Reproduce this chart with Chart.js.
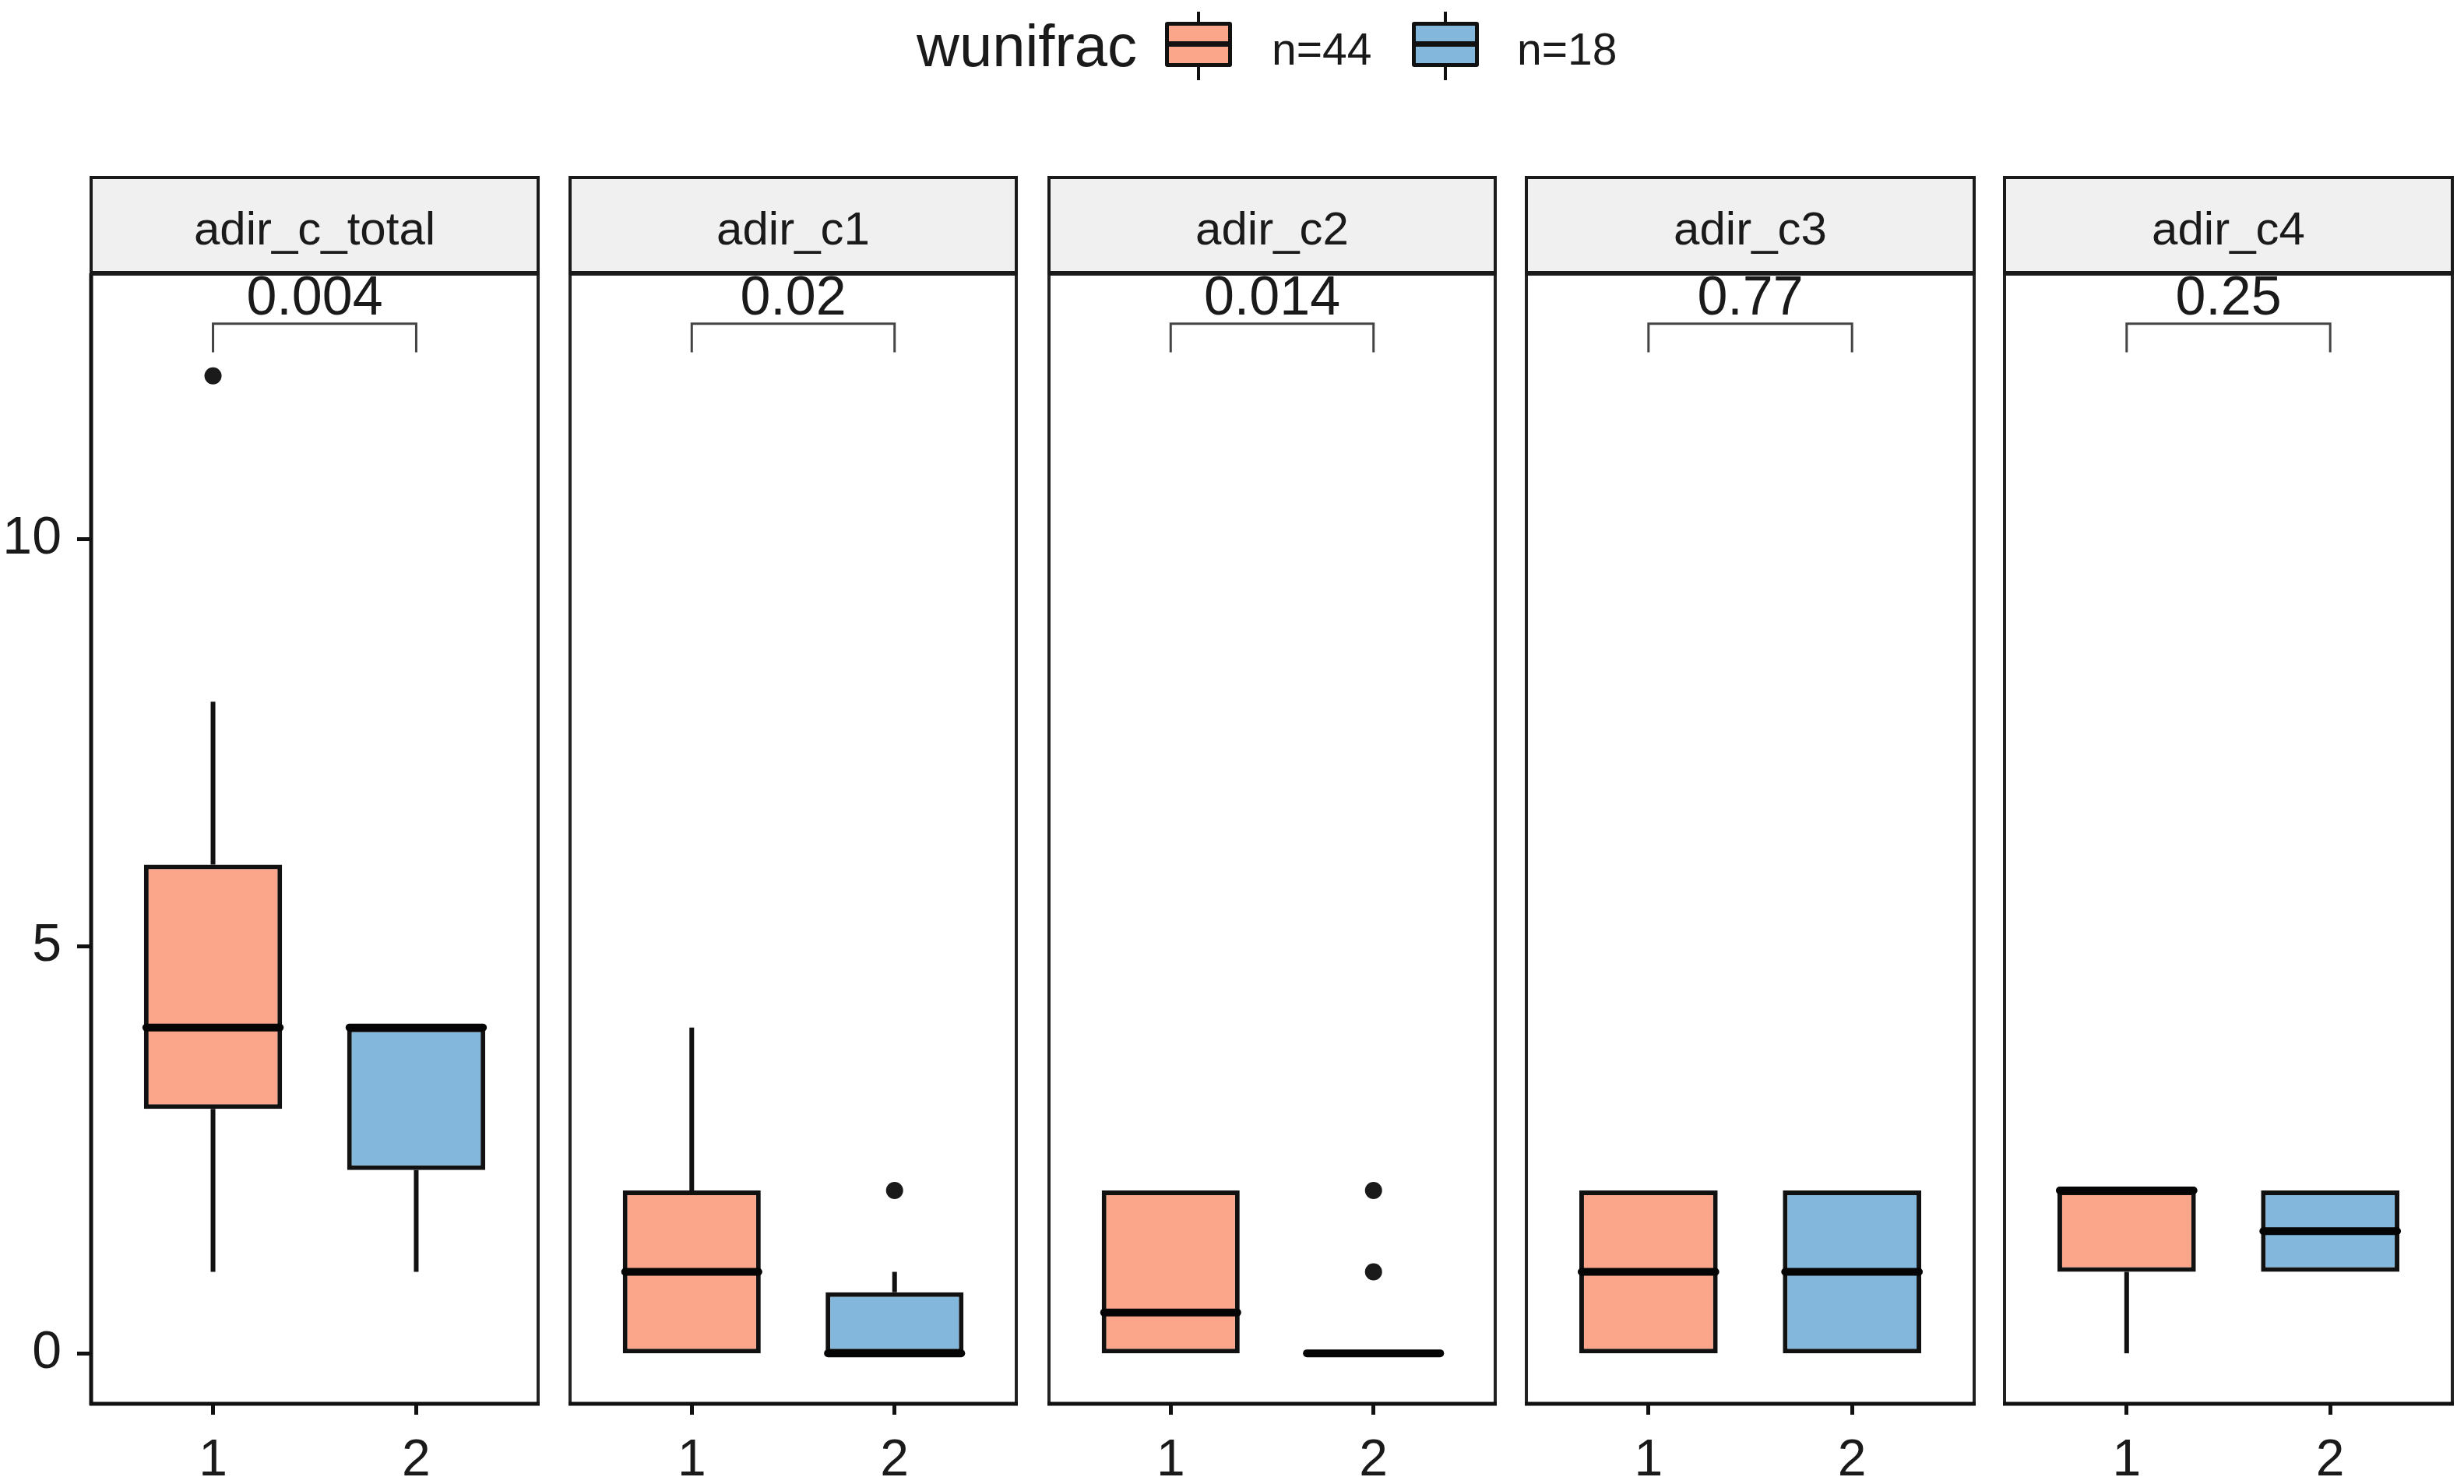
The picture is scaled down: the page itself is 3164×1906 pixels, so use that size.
<!DOCTYPE html>
<html>
<head>
<meta charset="utf-8">
<script src="https://cdn.jsdelivr.net/npm/chart.js@4.4.1/dist/chart.umd.min.js"></script>
<style>
html, body { margin: 0; padding: 0; background: #fff; }
body { width: 3164px; height: 1906px; position: relative; overflow: hidden;
       font-family: "Liberation Sans", Arial, sans-serif; color: #1a1a1a; }
canvas { position: absolute; }
.lg { position: absolute; white-space: nowrap; line-height: 1; }
.key { position: absolute; box-sizing: border-box; border: 5px solid #111; border-radius: 3px; }
.bar { position: absolute; background: #111; }
</style>
</head>
<body>
<script>
// facets, groups, labels
const panelNames = ['adir_c_total', 'adir_c1', 'adir_c2', 'adir_c3', 'adir_c4'];
const legendTitle = 'wunifrac';
const groupLabels = ['n=44', 'n=18'];
const groupColors = ['#FBA68B', '#83B8DC'];
const pValues = ['0.004', '0.02', '0.014', '0.77', '0.25'];
const xTicks = [1, 2];
const yTicks = [0, 5, 10];

// group 1 (n=44) box stats per facet
const g1Low  = [1, 0, 0,   0, 0];
const g1Q1   = [3, 0, 0,   0, 1];
const g1Med  = [4, 1, 0.5, 1, 2];
const g1Q3   = [6, 2, 2,   2, 2];
const g1High = [8, 4, 2,   2, 2];
const g1Out  = [[12], [], [], [], []];

// group 2 (n=18) box stats per facet
const g2Low  = [1,    0,    0, 0, 1];
const g2Q1   = [2.25, 0,    0, 0, 1];
const g2Med  = [4,    0,    0, 1, 1.5];
const g2Q3   = [4,    0.75, 0, 2, 2];
const g2High = [4,    1,    0, 2, 2];
const g2Out  = [[], [2], [1, 2], [], []];

const stats = [
  {low: g1Low, q1: g1Q1, med: g1Med, q3: g1Q3, high: g1High, out: g1Out},
  {low: g2Low, q1: g2Q1, med: g2Med, q3: g2Q3, high: g2High, out: g2Out}
];

// layout (px)
const panelLeft = 117, panelStep = 614.25, panelW = 575;
const canvasTop = 200, plotTop = 351, plotBottom = 1803, stripH = 123;
const font = '"Liberation Sans", Arial, sans-serif';

function line(ctx, x1, y1, x2, y2) {
  ctx.beginPath(); ctx.moveTo(x1, y1); ctx.lineTo(x2, y2); ctx.stroke();
}

const boxParts = {
  id: 'boxParts',
  beforeDatasetsDraw(chart, args, opts) {
    const {ctx, scales: {x, y}} = chart;
    const i = opts.panel;
    ctx.save();
    ctx.strokeStyle = '#111';
    ctx.lineWidth = 6;
    stats.forEach((st, k) => {
      const px = x.getPixelForValue(xTicks[k]);
      if (st.high[i] > st.q3[i]) line(ctx, px, y.getPixelForValue(st.q3[i]), px, y.getPixelForValue(st.high[i]));
      if (st.low[i] < st.q1[i]) line(ctx, px, y.getPixelForValue(st.q1[i]), px, y.getPixelForValue(st.low[i]));
    });
    ctx.restore();
  },
  afterDatasetsDraw(chart, args, opts) {
    const {ctx, scales: {y}} = chart;
    const i = opts.panel;
    const bars = chart.getDatasetMeta(0).data;
    ctx.save();
    ctx.strokeStyle = '#050505';
    ctx.lineWidth = 10;
    ctx.lineCap = 'round';
    stats.forEach((st, k) => {
      const b = bars[k];
      const py = y.getPixelForValue(st.med[i]);
      line(ctx, b.x - b.width / 2 + 3, py, b.x + b.width / 2 - 3, py);
    });
    ctx.restore();
  },
  afterDraw(chart, args, opts) {
    const {ctx, chartArea: a, scales: {x, y}} = chart;
    const i = opts.panel;
    ctx.save();
    // panel border
    ctx.strokeStyle = '#222';
    ctx.lineWidth = 4;
    ctx.strokeRect(a.left, a.top, a.right - a.left, a.bottom - a.top);
    // axis lines
    ctx.strokeStyle = '#111';
    ctx.lineWidth = 5;
    line(ctx, a.left - 2, a.bottom, a.right + 2, a.bottom);
    if (i === 0) line(ctx, a.left, a.top, a.left, a.bottom + 2);
    // bracket + p value
    const x1 = x.getPixelForValue(xTicks[0]), x2 = x.getPixelForValue(xTicks[1]);
    const yb = y.getPixelForValue(12.64), yt = y.getPixelForValue(12.29);
    ctx.strokeStyle = '#444';
    ctx.lineWidth = 3;
    ctx.beginPath();
    ctx.moveTo(x1, yt); ctx.lineTo(x1, yb); ctx.lineTo(x2, yb); ctx.lineTo(x2, yt);
    ctx.stroke();
    ctx.fillStyle = '#1a1a1a';
    ctx.font = '70px ' + font;
    ctx.textAlign = 'center';
    ctx.textBaseline = 'middle';
    ctx.fillText(pValues[i], (x1 + x2) / 2, y.getPixelForValue(12.98) + 4);
    // facet strip
    const st = a.top - stripH;
    ctx.fillStyle = '#F0F0F0';
    ctx.fillRect(a.left, st, a.right - a.left, stripH);
    ctx.strokeStyle = '#1a1a1a';
    ctx.lineWidth = 4;
    ctx.strokeRect(a.left, st, a.right - a.left, stripH);
    ctx.lineWidth = 6;
    line(ctx, a.left, a.top, a.right, a.top);
    ctx.fillStyle = '#1a1a1a';
    ctx.font = '60px ' + font;
    ctx.fillText(panelNames[i], (a.left + a.right) / 2, st + stripH / 2 + 8);
    ctx.restore();
  }
};

panelNames.forEach((name, i) => {
  const first = i === 0;
  const left = first ? 0 : Math.round(panelLeft + i * panelStep) - 10;
  const width = first ? panelLeft + panelW + 10 : panelW + 20;
  const height = 1906 - canvasTop;
  const cv = document.createElement('canvas');
  cv.width = width; cv.height = height;
  cv.style.left = left + 'px'; cv.style.top = canvasTop + 'px';
  cv.style.width = width + 'px'; cv.style.height = height + 'px';
  document.body.appendChild(cv);

  const outliers = [];
  stats.forEach((st, k) => st.out[i].forEach(v => outliers.push({x: xTicks[k], y: v})));

  new Chart(cv, {
    type: 'bar',
    data: {
      datasets: [
        {
          data: stats.map((st, k) => ({x: xTicks[k], y: [st.q1[i], st.q3[i]]})),
          backgroundColor: groupColors,
          borderColor: '#111',
          borderWidth: 6,
          borderSkipped: false,
          categoryPercentage: 1,
          barPercentage: 0.68
        },
        {
          type: 'scatter',
          data: outliers,
          pointRadius: 11,
          pointBackgroundColor: '#1a1a1a',
          pointBorderWidth: 0
        }
      ]
    },
    options: {
      responsive: false,
      animation: false,
      devicePixelRatio: 1,
      layout: {padding: {top: plotTop - canvasTop, bottom: 0, left: first ? 0 : 10, right: 10}},
      plugins: {legend: {display: false}, tooltip: {enabled: false}, boxParts: {panel: i}},
      scales: {
        x: {
          type: 'linear', min: 0.4, max: 2.6, offset: false,
          afterBuildTicks: s => { s.ticks = xTicks.map(v => ({value: v})); },
          afterFit: s => { s.height = 1906 - plotBottom; },
          ticks: {font: {size: 66, family: font}, color: '#1a1a1a', padding: 20, maxRotation: 0},
          grid: {display: true, offset: false, drawOnChartArea: false, tickLength: 14, tickWidth: 5, tickColor: '#111'},
          border: {display: false}
        },
        y: {
          display: first,
          min: -0.62, max: 13.26,
          afterBuildTicks: s => { s.ticks = yTicks.map(v => ({value: v})); },
          afterFit: s => { if (first) s.width = panelLeft; },
          ticks: {font: {size: 68, family: font}, color: '#1a1a1a', padding: 20},
          grid: {display: true, offset: false, drawOnChartArea: false, tickLength: 18, tickWidth: 5, tickColor: '#111'},
          border: {display: false}
        }
      }
    },
    plugins: [boxParts]
  });
});

// legend
function addText(txt, left, top, size) {
  const d = document.createElement('div');
  d.className = 'lg';
  d.textContent = txt;
  d.style.left = left + 'px'; d.style.top = top + 'px'; d.style.fontSize = size + 'px';
  document.body.appendChild(d);
}
function addBar(left, top, w, h) {
  const d = document.createElement('div');
  d.className = 'bar';
  Object.assign(d.style, {left: left + 'px', top: top + 'px', width: w + 'px', height: h + 'px'});
  document.body.appendChild(d);
}
addText(legendTitle, 1177, 21, 76);
const keyLeft = [1496, 1813], textLeft = [1633, 1948];
groupLabels.forEach((lab, k) => {
  addBar(keyLeft[k] + 41, 15, 4, 16);
  addBar(keyLeft[k] + 41, 83, 4, 20);
  const key = document.createElement('div');
  key.className = 'key';
  Object.assign(key.style, {left: keyLeft[k] + 'px', top: '28px', width: '86px', height: '58px', background: groupColors[k]});
  document.body.appendChild(key);
  addBar(keyLeft[k] + 2, 53, 82, 7);
  addText(lab, textLeft[k], 35, 57);
});
</script>
</body>
</html>
